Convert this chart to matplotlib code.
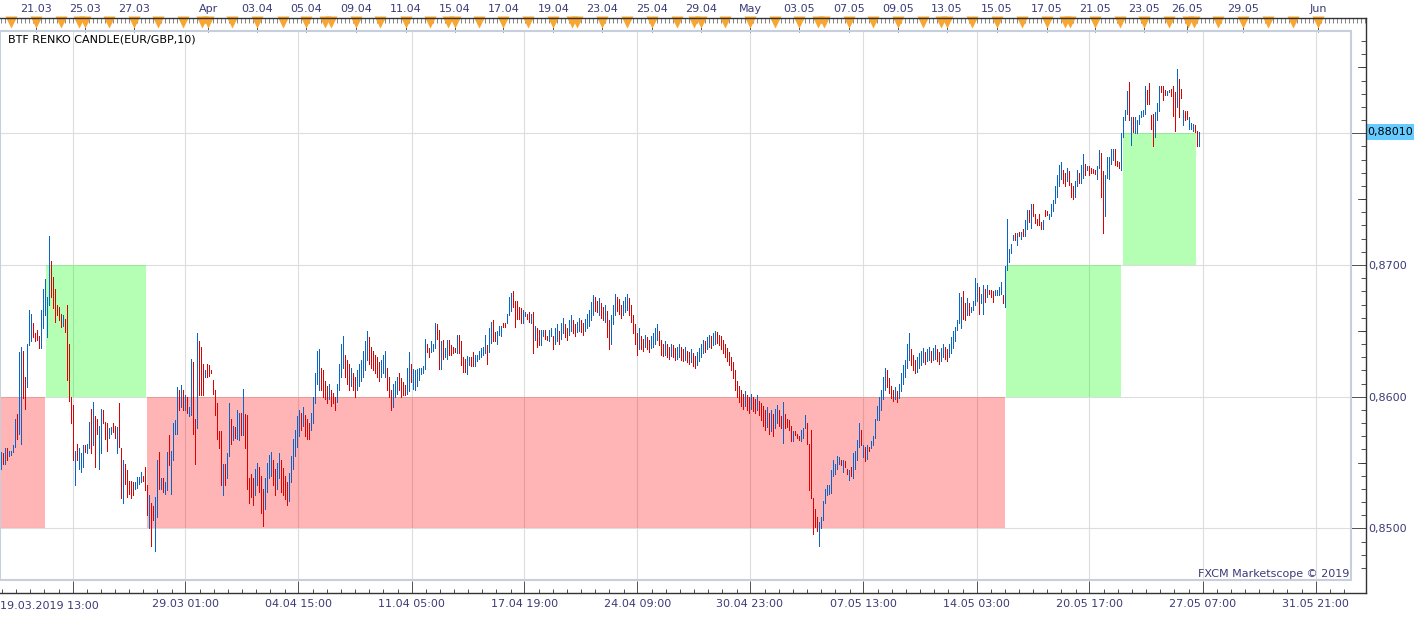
import numpy as np
import matplotlib
matplotlib.use("Agg")
import matplotlib.pyplot as plt
import matplotlib.transforms as mtransforms
from matplotlib.patches import Rectangle
from matplotlib.lines import Line2D
from matplotlib.ticker import FixedLocator, MultipleLocator

# EUR/GBP 2h candles, prices in pips above 0.8400
high_pips = [
    # 19.03 - 28.03
    158, 157, 161, 161, 159, 159, 163, 183, 187, 234, 238, 235, 215, 240, 266, 263, 256, 248, 251, 246,
    266, 282, 289, 276, 322, 303, 291, 282, 270, 268, 263, 262, 259, 270, 240, 200, 194, 159, 164, 161,
    157, 163, 163, 164, 181, 191, 196, 185, 183, 178, 191, 190, 181, 180, 176, 177, 180, 178, 177, 195,
    161, 152, 149, 144, 136, 136, 135, 135, 139, 139, 143, 140, 147, 133, 125, 119, 117, 124, 152, 158,
    138, 138, 135, 158, 171, 159, 180, 182, 207, 205, 209, 205, 201, 200, 192, 229, 226, 183, 248, 242,
    238, 225, 220, 225, 224, 220, 213, 205, 195, 174, 174, 149, 149, 157, 195, 183, 178, 177, 190, 188,
    188, 206, 187, 186, 138,
    # 04.04 - 10.04
    141, 138, 145, 150, 147, 140, 130, 138, 150, 156, 158, 152, 145, 150, 157, 152, 146, 140, 135, 142,
    155, 168, 175, 185, 190, 188, 192, 186, 183, 180, 188, 200, 218, 235, 236, 222, 220, 212, 208, 210,
    205, 203, 200, 210, 225, 240, 246, 232, 228, 225, 222, 218, 215, 220, 225, 228, 235, 242, 250, 245,
    238, 235, 232, 230, 226, 228, 232, 235, 222, 215, 205, 210, 212, 215, 218,
    # 11.04 - 19.04
    214, 211, 209, 222, 234, 225, 221, 220, 221, 222, 222, 223, 244, 240, 237, 242, 240, 256, 255, 251,
    242, 243, 237, 243, 243, 239, 238, 237, 247, 247, 242, 230, 229, 231, 230, 230, 234, 232, 232, 235,
    237, 238, 247, 239, 252, 257, 258, 249, 250, 254, 254, 256, 256, 263, 276, 279, 280, 273, 273, 268,
    267, 266, 264, 263, 264, 263, 264, 254, 252, 251, 251, 251, 251, 246, 251, 252,
    # 19.04 - 02.05
    246, 252, 255, 250, 256, 260, 255, 252, 258, 262, 258, 255, 257, 260, 258, 256, 259, 263, 266, 272,
    277, 276, 273, 275, 271, 268, 270, 265, 258, 262, 270, 278, 276, 274, 270, 273, 276, 278, 275, 270,
    262, 255, 248, 252, 246, 244, 247, 245, 243, 246, 248, 252, 255, 250, 243, 240, 242, 240, 238, 240,
    239, 237, 238, 240, 238, 236, 238, 235, 234, 236, 233, 231, 234, 237, 240, 243, 242, 245, 247, 246,
    248, 250, 249, 247, 246, 243, 240, 237, 234, 230, 226, 220, 212, 208, 205, 202, 204, 201, 200, 202,
    200, 198, 201, 197, 195, 193, 190, 192, 188, 190, 187, 191, 194, 190,
    # 02.05 - 08.05
    185, 196, 187, 183, 182, 178, 174, 174, 172, 170, 175, 176, 186, 180, 164, 175, 123, 115, 109, 105,
    109, 121, 130, 133, 133, 144, 152, 149, 155, 154, 152, 152, 151, 145, 144, 147, 157, 159, 167, 180,
    175, 163, 162, 163, 162, 166, 170, 183, 193, 200,
    # 09.05 - 14.05
    205, 215, 222, 220, 214, 208, 205, 207, 204, 210, 218, 224, 228, 240, 248, 236, 232, 228, 230, 233,
    235, 237, 234, 236, 238, 235, 237, 239, 236, 234, 237, 240, 238, 236, 240, 245, 250, 253,
    # 14.05 - 20.05
    258, 279, 276, 280, 271, 275, 271, 268, 273, 290, 286, 283, 278, 285, 282, 285, 281, 281, 280, 281,
    281, 283, 287, 277, 299, 335, 312, 316, 323, 324, 324, 325, 325, 327, 334, 342, 342, 346, 346, 339,
    335, 339, 333, 334, 342, 341, 339, 346, 349,
    360, 368, 376, 378, 372, 370, 374, 371, 362, 360, 364, 372, 370,
    # 21.05 - 27.05
    376, 384, 377, 375, 375, 374, 373, 372, 375, 387, 385, 371, 368, 382, 382, 388, 388, 388, 379, 378,
    400, 412, 418, 432, 439, 412, 412, 412, 410, 414, 417, 418, 436, 433, 438, 414, 415, 416, 423, 436,
    436, 436, 433, 432, 433, 434, 436, 431, 449, 441, 434, 418, 417, 417, 412, 408, 407, 406, 402, 401,
]
low_pips = [
    145, 149, 149, 152, 155, 156, 158, 162, 168, 172, 164, 199, 191, 207, 239, 242, 245, 242, 243, 237,
    237, 252, 262, 245, 270, 276, 267, 257, 262, 258, 253, 254, 249, 213, 197, 180, 152, 133, 152, 145,
    143, 147, 158, 157, 161, 157, 163, 147, 172, 145, 157, 180, 168, 159, 169, 172, 173, 169, 157, 162,
    123, 119, 134, 124, 126, 123, 125, 130, 131, 134, 135, 136, 129, 110, 100, 87, 106, 83, 109, 130,
    130, 128, 126, 129, 148, 126, 152, 172, 172, 190, 192, 190, 190, 188, 185, 186, 172, 149, 176, 201,
    201, 201, 215, 215, 216, 218, 202, 186, 168, 161, 133, 125, 133, 138, 155, 164, 167, 169, 168, 167,
    171, 171, 161, 130, 119,
    124, 118, 125, 133, 128, 112, 102, 115, 128, 138, 140, 133, 125, 130, 138, 128, 125, 122, 118, 121,
    135, 145, 155, 162, 170, 175, 178, 170, 168, 168, 175, 180, 195, 210, 205, 205, 200, 198, 195, 198,
    193, 195, 190, 196, 205, 215, 222, 215, 210, 205, 208, 205, 200, 205, 208, 212, 215, 220, 228, 225,
    222, 220, 218, 215, 212, 215, 218, 215, 205, 200, 190, 192, 200, 202, 205,
    200, 201, 201, 202, 204, 211, 206, 205, 208, 213, 217, 218, 221, 234, 230, 234, 235, 237, 244, 221,
    221, 229, 230, 229, 232, 232, 233, 234, 233, 233, 224, 219, 219, 217, 224, 223, 223, 223, 227, 229,
    230, 232, 233, 225, 234, 241, 242, 242, 240, 247, 246, 253, 253, 256, 262, 265, 268, 253, 259, 259,
    256, 256, 261, 259, 257, 256, 233, 243, 238, 239, 239, 246, 244, 243, 242, 246,
    236, 240, 242, 240, 244, 248, 245, 243, 247, 250, 248, 246, 249, 250, 249, 247, 250, 252, 254, 258,
    262, 265, 264, 262, 260, 258, 257, 245, 236, 240, 255, 262, 265, 263, 260, 262, 264, 266, 262, 257,
    248, 240, 232, 236, 236, 235, 238, 236, 234, 237, 238, 240, 243, 239, 232, 231, 232, 230, 229, 231,
    230, 228, 229, 230, 228, 227, 228, 226, 225, 226, 223, 222, 224, 227, 230, 233, 234, 236, 238, 237,
    239, 240, 241, 239, 236, 233, 230, 227, 224, 220, 214, 205, 200, 196, 193, 191, 193, 190, 188, 191,
    189, 188, 190, 186, 182, 178, 175, 177, 172, 174, 170, 176, 180, 178,
    176, 165, 176, 177, 175, 166, 166, 171, 169, 167, 166, 169, 176, 164, 129, 123, 96, 101, 98, 87,
    100, 106, 119, 125, 126, 127, 140, 141, 145, 149, 148, 143, 147, 141, 137, 140, 138, 145, 152, 162,
    163, 154, 151, 153, 159, 161, 163, 169, 182, 182,
    190, 198, 205, 207, 203, 199, 197, 198, 196, 199, 204, 210, 215, 222, 228, 224, 220, 218, 219, 222,
    224, 226, 225, 227, 228, 226, 228, 229, 227, 225, 227, 230, 229, 227, 230, 233, 237, 242,
    251, 256, 252, 259, 258, 262, 262, 264, 266, 270, 273, 263, 271, 263, 272, 276, 278, 276, 272, 277,
    277, 277, 278, 271, 268, 296, 302, 309, 319, 319, 315, 322, 320, 322, 322, 327, 333, 328, 337, 332,
    330, 330, 327, 327, 337, 338, 335, 337, 341,
    347, 352, 360, 365, 362, 360, 364, 361, 352, 350, 352, 360, 362,
    362, 366, 368, 372, 368, 370, 370, 369, 365, 374, 352, 324, 337, 366, 365, 377, 380, 376, 375, 374,
    372, 397, 410, 415, 410, 391, 401, 400, 400, 407, 412, 413, 415, 422, 422, 403, 390, 397, 410, 417,
    431, 425, 429, 429, 431, 428, 413, 402, 420, 412, 427, 406, 410, 411, 403, 403, 402, 401, 390, 390,
]
# u = up candle (blue), d = down candle (red)
directions = (
    "ududuuuudu" "udduuudddd" "uuuuuddddd" "dudddddudu" "uuduududdu"
    "uddduuddud" "duddddduuu" "udddudduud" "uduuduuuud" "ududuuddud"
    "dduddddddd" "duduududuu" "duddd"
    "dduuddduuu" "udduuddddu" "uuuuududdd" "uuuuuddddu" "ddduuuuddd"
    "udduuuuuud" "ddddduuudd" "duuud"
    "ddduuduuuu" "uuudduuudd" "uduuddddud" "ddduudduuu" "uuuduudduu"
    "udduuudddd" "duuddududd" "uudduu"
    "duuduudduu" "dduudduuuu" "uddudduddu" "uuddduuudd" "dddudduddu"
    "uuuddduddu" "dduudduddu" "dduuuuduud" "uudddddddd" "dddddduddu"
    "dduddddudu" "duud"
    "dudddduddd" "uuuddddddu" "uuuuuuuuuu" "dudduduuuu" "dududuuuuu"
    "uuuddddudu" "uuuuuddduu" "uuduuduudd" "uudduuuu"
    "uuudduduuu" "uduududddu" "uuuduuuuud" "ududuududd" "dddudduuu"
    "uuuudduddduud"
    "uududddduu" "dduuuuuddd" "uuuududuuu" "uuudddduuu" "ddduudddud" "dudduuuddu"
)

# renko boxes: start/end in candle index, price range, up/down
box_start = [-0.5, 22.5, 73, 502.4, 560.9]
box_end = [22, 72.3, 502, 560, 597.4]
box_low = [0.85, 0.86, 0.85, 0.86, 0.87]
box_high = [0.86, 0.87, 0.86, 0.87, 0.88]
box_up = [False, True, False, True, True]

last_price = 0.8801

top_labels = ["21.03", "25.03", "27.03", "Apr", "03.04", "05.04", "09.04", "11.04", "15.04",
              "17.04", "19.04", "23.04", "25.04", "29.04", "May", "03.05", "07.05", "09.05",
              "13.05", "15.05", "17.05", "21.05", "23.05", "26.05", "29.05", "Jun"]
top_pos = [17.5, 42, 66.5, 103.7, 127.9, 152.5, 177.5, 202.4, 227, 251.2, 276.2, 300.7, 325.4,
           349.9, 374.5, 399.2, 424.2, 448.7, 472.9, 497.9, 522.9, 547, 571.7, 593.2, 621.2, 658.4]
day_marks = [4.9, 17.5, 29.9, 39.2, 42, 54.2, 66.5, 78.7, 91.2, 100.4, 103.7, 115.7, 127.9, 140.9,
             152.5, 162, 165, 177.5, 189.7, 202.4, 214.5, 223.7, 227, 239.2, 251.2, 263.7, 276.2,
             285.4, 288.2, 300.7, 313.2, 325.4, 337.9, 346.5, 349.9, 362, 374.5, 387, 399.2, 408.7,
             411.5, 424.2, 436.2, 448.7, 461.2, 470, 472.9, 485.7, 497.9, 510.4, 522.9, 532, 534.5,
             547, 559.5, 571.7, 584.2, 593.7, 596.5, 608.7, 621.2, 633.7, 645.9, 658.4]
bottom_labels = ["19.03.2019 13:00", "29.03 01:00", "04.04 15:00", "11.04 05:00", "17.04 19:00",
                 "24.04 09:00", "30.04 23:00", "07.05 13:00", "14.05 03:00", "20.05 17:00",
                 "27.05 07:00", "31.05 21:00"]
bottom_pos = [35.85, 92.15, 148.65, 205.35, 261.65, 318.15, 374.5, 431, 487.85, 544, 600.85, 657.35]

plt.rcParams['font.family'] = ['DejaVu Sans']
navy = "#3b3b78"
dark = "#333333"

W, H = 1423, 619
fig = plt.figure(figsize=(W / 100, H / 100), dpi=100)
ax = fig.add_axes([0, 39 / H, 1351 / W, 549 / H])

x = np.arange(len(high_pips))
hi = 0.84 + np.array(high_pips) / 10000
lo = 0.84 + np.array(low_pips) / 10000
cols = ['#0a64c8' if d == 'u' else '#e00000' for d in directions]

for s, e, l, h, up in zip(box_start, box_end, box_low, box_high, box_up):
    ax.add_patch(Rectangle((s, l), e - s, h - l, facecolor='#00ff00' if up else '#ff0000',
                           alpha=0.29, lw=0, zorder=1))

ax.vlines(x, lo, hi, colors=cols, linewidth=0.5, antialiased=False, zorder=3)

# bottom axis
ax.set_xticks(bottom_pos)
ax.set_xticklabels([""] + bottom_labels[1:])
step = (bottom_pos[-1] - bottom_pos[0]) / (8 * (len(bottom_pos) - 1))
minors = [bottom_pos[0] + step * k for k in range(-5, 8 * (len(bottom_pos) - 1) + 3) if k % 8]
ax.xaxis.set_minor_locator(FixedLocator(minors))
ax.text(0.0, -0.0474, bottom_labels[0], transform=ax.transAxes, ha='left', va='center',
        fontsize=8, color=navy)

# right axis
ax.yaxis.tick_right()
ax.set_yticks([0.85, 0.86, 0.87, 0.88])
ax.set_yticklabels(["0,8500", "0,8600", "0,8700", ""])
ax.yaxis.set_minor_locator(MultipleLocator(0.001))

for side in ['left', 'top', 'bottom', 'right']:
    ax.spines[side].set_visible(False)
ax.spines['bottom'].set_position(('outward', 9.36))
ax.spines['right'].set_position(('outward', 10.6))

ax.tick_params(axis='x', which='major', direction='in', length=8.6, width=0.6, color=dark,
               labelsize=8, labelcolor=navy, pad=4.5)
ax.tick_params(axis='x', which='minor', direction='in', length=3, width=0.6, color=dark)
ax.tick_params(axis='y', which='major', direction='in', length=10.6, width=0.6, color=dark,
               labelsize=8, labelcolor=navy, pad=1.8, right=True, left=False)
ax.tick_params(axis='y', which='minor', direction='in', length=3.4, width=0.6, color=dark,
               right=True, left=False)

ax.grid(True, which='major', color='#dddddd', lw=0.8)
ax.set_axisbelow(True)

ax_y = mtransforms.blended_transform_factory(ax.transAxes, ax.transData)
for yv in [0.855, 0.865, 0.875, 0.885]:
    ax.plot([1.0054, 1.0109], [yv, yv], color=dark, lw=0.6, transform=ax_y, clip_on=False)

# top date axis
ax_x = mtransforms.blended_transform_factory(ax.transData, ax.transAxes)
top_minor = np.arange(0, 683, 2)
ax.vlines(top_minor, 1.0146, 1.0237, colors='#555555', lw=0.5, transform=ax_x, clip_on=False)
ax.vlines(top_pos, 0.998, 1.0237, colors=dark, lw=0.6, transform=ax_x, clip_on=False)
ax.plot(day_marks, [1.0158] * len(day_marks), 'v', ms=8, color='#f9a630', mec='none',
        transform=ax_x, clip_on=False, zorder=4)
for p, lab in zip(top_pos, top_labels):
    ax.text(p, 1.0401, lab, transform=ax_x, ha='center', va='center', fontsize=8, color=navy)

# axis lines around the chart
xr = 1365.7 / W
fig.add_artist(Line2D([0, xr], [1 - 18 / H] * 2, color=dark, lw=1))
fig.add_artist(Line2D([xr, xr], [1 - 18 / H, 1 - 593 / H], color=dark, lw=1))
fig.add_artist(Line2D([0, xr], [1 - 593 / H] * 2, color=dark, lw=1))
ax.add_patch(Rectangle((0, 0), 1, 1, transform=ax.transAxes, fill=False, edgecolor='#c6cfdb',
                       lw=1.5, clip_on=False, zorder=5))

# last price tag
ax.add_patch(Rectangle((1366 / 1351, last_price - 0.00061), 48 / 1351, 0.00122, transform=ax_y,
                       facecolor='#66ccff', lw=0, clip_on=False, zorder=6))
ax.text(1367.5 / 1351, last_price, "0,88010", transform=ax_y, ha='left', va='center',
        fontsize=8, color='black', zorder=7)

fig.text(8 / W, 1 - 39 / H, "BTF RENKO CANDLE(EUR/GBP,10)", ha='left', va='center',
         fontsize=8, color='black')
fig.text(1349 / W, 1 - 574 / H, "FXCM Marketscope \u00a9 2019", ha='right', va='center',
         fontsize=8, color=navy)

ax.set_xlim(-0.5, 675)
ax.set_ylim(0.846082, 0.887768)

fig.savefig("out.png", dpi=100)
